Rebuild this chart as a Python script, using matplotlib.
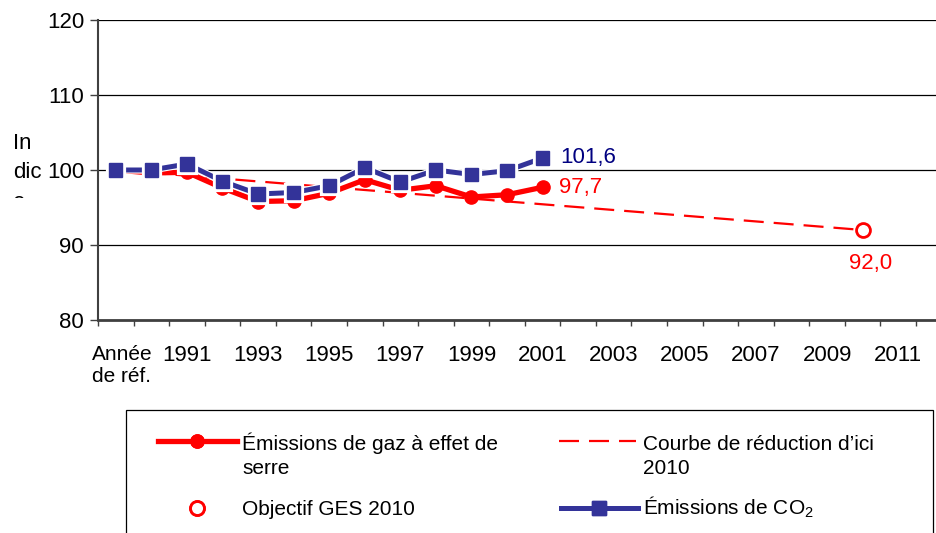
import matplotlib
matplotlib.use("Agg")
import matplotlib.pyplot as plt
import matplotlib.patheffects as pe
from matplotlib.lines import Line2D
from matplotlib.patches import Rectangle
from matplotlib.transforms import Bbox, TransformedBbox, ScaledTranslation
import numpy as np

plt.rcParams['font.family'] = ['Liberation Sans', 'DejaVu Sans']
plt.rcParams['mathtext.fontset'] = 'custom'
plt.rcParams['mathtext.rm'] = 'Liberation Sans'
plt.rcParams['mathtext.it'] = 'Liberation Sans'

# ---- data ----
categories = ["Année\nde réf.", "1990", "1991", "1992", "1993", "1994", "1995",
              "1996", "1997", "1998", "1999", "2000", "2001", "2002", "2003",
              "2004", "2005", "2006", "2007", "2008", "2009", "2010", "2011", "2012"]
ghg = [100.0, 99.6, 99.7, 97.6, 95.8, 95.9, 96.9, 98.7, 97.3, 97.9, 96.4, 96.7, 97.7]
co2 = [100.0, 100.0, 100.8, 98.5, 96.8, 97.0, 97.9, 100.3, 98.4, 100.0, 99.4, 99.9, 101.6]
reduction_cats = ["Année\nde réf.", "2010"]
reduction_vals = [100.0, 92.0]
target_cat = "2010"
target_val = 92.0

label_ghg = "Émissions de gaz à effet de\nserre"
label_red = "Courbe de réduction d’ici\n2010"
label_target = "Objectif GES 2010"
label_co2 = "Émissions de CO$_2$"
ylabel = "In\ndic\ne"

RED = "#FF0000"
BLUE = "#333399"
NAVY = "#000080"

W, H = 937, 533
fig = plt.figure(figsize=(W / 100, H / 100), dpi=100)

def fx(px):
    return px / W

def fy(py):
    return 1 - py / H

ax = fig.add_axes([fx(98), fy(320), 853.6 / W, 300 / H])

x_all = np.arange(len(categories))
x_ser = np.arange(len(ghg))
x_red = [categories.index(c) for c in reduction_cats]
x_tgt = categories.index(target_cat)

ax.plot(x_red, reduction_vals, color=RED, lw=1.6, dashes=(9, 4.5), zorder=2)
ax.plot(x_ser, ghg, color=RED, lw=3.8, marker='o', ms=9.5, zorder=3)
ax.plot(x_ser, co2, color=BLUE, lw=3.6, marker='s', ms=9.5, zorder=4,
        path_effects=[pe.Stroke(linewidth=5.2, foreground='white'), pe.Normal()])
ax.plot([x_tgt], [target_val], linestyle='none', marker='o', ms=10, mfc='white',
        mec=RED, mew=2, zorder=5)

ax.annotate(f"{co2[-1]:.1f}".replace('.', ','), (x_ser[-1], co2[-1]),
            xytext=(13, 0), textcoords='offset points', color=NAVY,
            fontsize=16, va='center', ha='left')
ax.annotate(f"{ghg[-1]:.1f}".replace('.', ','), (x_ser[-1], ghg[-1]),
            xytext=(12, 0), textcoords='offset points', color=RED,
            fontsize=16, va='center', ha='left')
ax.annotate(f"{target_val:.1f}".replace('.', ','), (x_tgt, target_val),
            xytext=(6, -24), textcoords='offset points', color=RED,
            fontsize=16, va='center', ha='center')

ax.set_xlim(-0.5, len(categories) - 0.5)
ax.set_ylim(80, 120)
ax.set_yticks([80, 90, 100, 110, 120])
ax.yaxis.grid(True, color='black', lw=0.9)
ax.set_axisbelow(True)
ax.tick_params(axis='y', direction='out', length=6, width=1, color='#404040',
               labelsize=16, pad=4)

ax.set_xticks(np.arange(len(categories)) - 0.5)
ax.set_xticklabels([])
ax.tick_params(axis='x', which='major', direction='out', length=4.5, width=1,
               color='#404040')
ax.set_xticks(x_all, minor=True)
ax.set_xticklabels([c if i % 2 == 0 else "" for i, c in enumerate(categories)],
                   minor=True)
ax.tick_params(axis='x', which='minor', length=0, pad=18, labelsize=16)
first = ax.get_xticklabels(minor=True)[0]
first.set_fontsize(15)
first.set_transform(first.get_transform() + ScaledTranslation(6 / 100, 0, fig.dpi_scale_trans))

for s in ['top', 'right']:
    ax.spines[s].set_visible(False)
ax.spines['left'].set_color('#404040')
ax.spines['left'].set_linewidth(1.5)
ax.spines['bottom'].set_color('#404040')
ax.spines['bottom'].set_linewidth(2)

# clipped y label
t = fig.text(fx(13), fy(133), ylabel, fontsize=16, va='top', ha='left',
             linespacing=1.53)
t.set_clip_on(True)
t.set_clip_box(TransformedBbox(Bbox([[0, fy(197.5)], [fx(60), 1]]), fig.transFigure))

# legend box
fig.add_artist(Rectangle((fx(126), fy(560)), fx(933) - fx(126), fy(410) - fy(560),
                         transform=fig.transFigure, fill=False, ec='black', lw=0.9))

def sample(x0, x1, y, **kw):
    fig.add_artist(Line2D([fx(x0), fx(x1)], [fy(y), fy(y)],
                          transform=fig.transFigure, **kw))

def legend_text(x, y_base, text):
    for i, line in enumerate(text.split("\n")):
        fig.text(fx(x), fy(y_base + 24 * i), line, fontsize=15,
                 va='baseline', ha='left')

sample(158, 237, 441, color=RED, lw=3.8)
sample(197, 197, 441, color=RED, marker='o', ms=9.5, linestyle='none')
sample(559, 636, 441, color=RED, lw=1.6, dashes=(9, 4.5))
sample(197, 197, 508, linestyle='none', marker='o', ms=10, mfc='white', mec=RED, mew=2)
sample(561, 638, 508, color=BLUE, lw=3.6)
sample(599, 599, 508, color=BLUE, marker='s', ms=9.5, linestyle='none')

legend_text(242, 450, label_ghg)
legend_text(643, 450, label_red)
legend_text(242, 515, label_target)
legend_text(643, 515, label_co2)

fig.savefig("out.png", dpi=100)
